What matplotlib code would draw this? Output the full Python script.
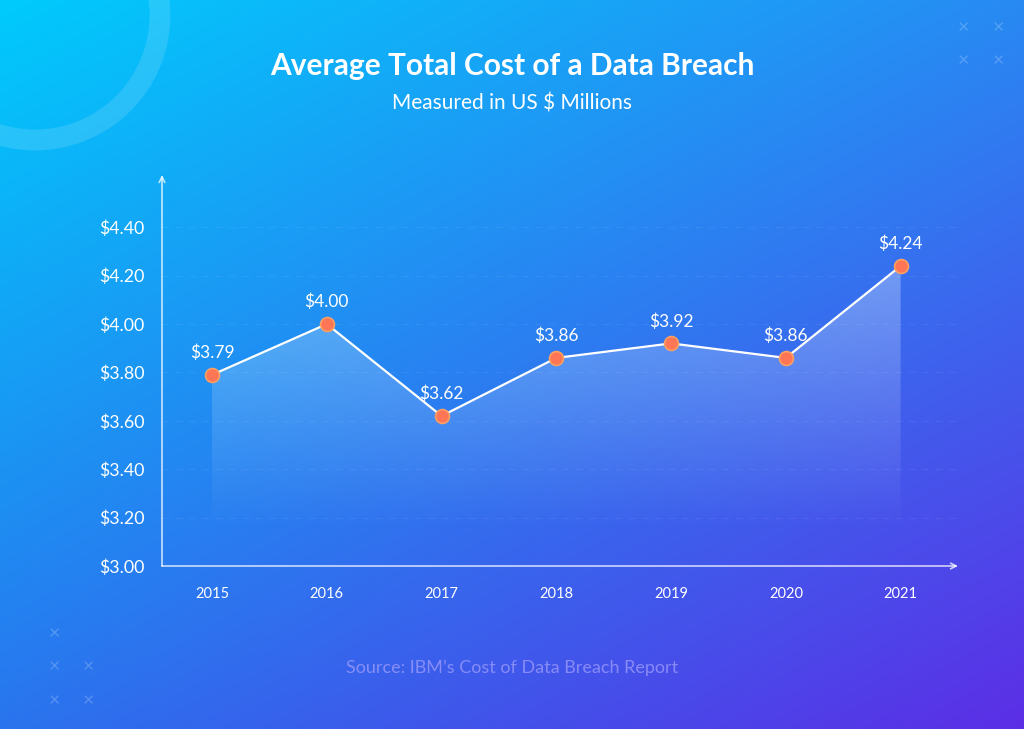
import numpy as np
import matplotlib.pyplot as plt
from matplotlib.patches import Circle

# 数据
years = ['2015', '2016', '2017', '2018', '2019', '2020', '2021']
costs = [3.79, 4.00, 3.62, 3.86, 3.92, 3.86, 4.24]
y_ticks = [3.00, 3.20, 3.40, 3.60, 3.80, 4.00, 4.20, 4.40]

title = 'Average Total Cost of a Data Breach'
subtitle = 'Measured in US $ Millions'
source = "Source: IBM\u2019s Cost of Data Breach Report"

plt.rcParams['font.family'] = ['Lato', 'DejaVu Sans']

W, H = 1024, 729
fig = plt.figure(figsize=(W / 100, H / 100), dpi=100)

# 背景渐变
bg = fig.add_axes([0, 0, 1, 1])
bg.set_xlim(0, W)
bg.set_ylim(H, 0)
bg.axis('off')
tl = np.array([0, 203, 252]) / 255
tr = np.array([40, 138, 243]) / 255
bl = np.array([42, 116, 238]) / 255
br = np.array([92, 46, 230]) / 255
u = np.linspace(0, 1, 256)[None, :, None]
v = np.linspace(0, 1, 256)[:, None, None]
grad = (tl * (1 - u) * (1 - v) + tr * u * (1 - v) + bl * (1 - u) * v + br * u * v)
bg.imshow(grad, extent=[0, W, H, 0], aspect='auto', zorder=0)

# 装饰圆环和叉号
bg.add_patch(Circle((35, 15), 125, fill=False, lw=15, ec=(1, 1, 1, 0.13), zorder=1))
for (cx, cy) in [(963, 28), (998, 28), (963, 61), (998, 61),
                 (54, 634), (54, 667), (88, 667), (54, 701), (88, 701)]:
    bg.text(cx, cy, '\u00d7', color=(1, 1, 1, 0.22), fontsize=14,
            ha='center', va='center', zorder=1)

fig.text(0.5, 1 - 66 / H, title, color='white', fontsize=21.5, fontweight='bold',
         ha='center', va='center')
fig.text(0.5, 1 - 104 / H, subtitle, color='white', fontsize=15,
         ha='center', va='center')
fig.text(0.5, 1 - 668 / H, source, color=(0.6, 0.6, 0.98, 0.8), fontsize=13,
         ha='center', va='center')

# 图表区域
left, right, top, bottom = 162, 958, 175, 566
ax = fig.add_axes([left / W, 1 - bottom / H, (right - left) / W, (bottom - top) / H])
ax.patch.set_alpha(0)
x = np.arange(len(years))
for s in ax.spines.values():
    s.set_visible(False)

# 坐标轴箭头
axis_col = (1, 1, 1, 0.75)
ax.annotate('', xy=(0, 1), xytext=(0, 0), xycoords='axes fraction',
            arrowprops=dict(arrowstyle='->', color=axis_col, lw=1.2, shrinkA=0, shrinkB=0))
ax.annotate('', xy=(1, 0), xytext=(0, 0), xycoords='axes fraction',
            arrowprops=dict(arrowstyle='->', color=axis_col, lw=1.2, shrinkA=0, shrinkB=0))

# 网格虚线
for t in y_ticks[1:]:
    ax.axhline(t, color=(1, 1, 1, 0.07), lw=0.8, ls=(0, (6, 6)), zorder=1)

ax.set_xticks(x)
ax.set_xticklabels(years)
ax.set_yticks(y_ticks)
ax.set_yticklabels(['${:.2f}'.format(t) for t in y_ticks])
ax.tick_params(axis='x', length=0, pad=15, labelsize=10.5, labelcolor='white')
ax.tick_params(axis='y', length=0, pad=12.5, labelsize=12.8, labelcolor='white')

# 渐变填充
poly = ax.fill_between(x, costs, 3.0, color='none', lw=0)
fill_img = np.ones((256, 1, 4))
fill_img[:, 0, 3] = np.clip(np.linspace(0.32, 0.0, 256), 0, 1)
im = ax.imshow(fill_img, extent=[0, 6, 3.15, 4.3], aspect='auto', zorder=2,
               origin='upper')
im.set_clip_path(poly.get_paths()[0], transform=ax.transData)
ax.set_xlim(-0.436, 6.5)
ax.set_ylim(3.0, 4.616)

# 折线和点
ax.plot(x, costs, color='white', lw=1.6, zorder=3)
ax.plot(x, costs, 'o', ms=10, mfc='#ff7656', mec='#ffa062', mew=1.2, zorder=4)
for xi, c in zip(x, costs):
    ax.annotate('${:.2f}'.format(c), (xi, c), xytext=(0, 10), textcoords='offset points',
                ha='center', va='bottom', color='white', fontsize=12.5, zorder=5)

fig.savefig('out.png', dpi=100)
